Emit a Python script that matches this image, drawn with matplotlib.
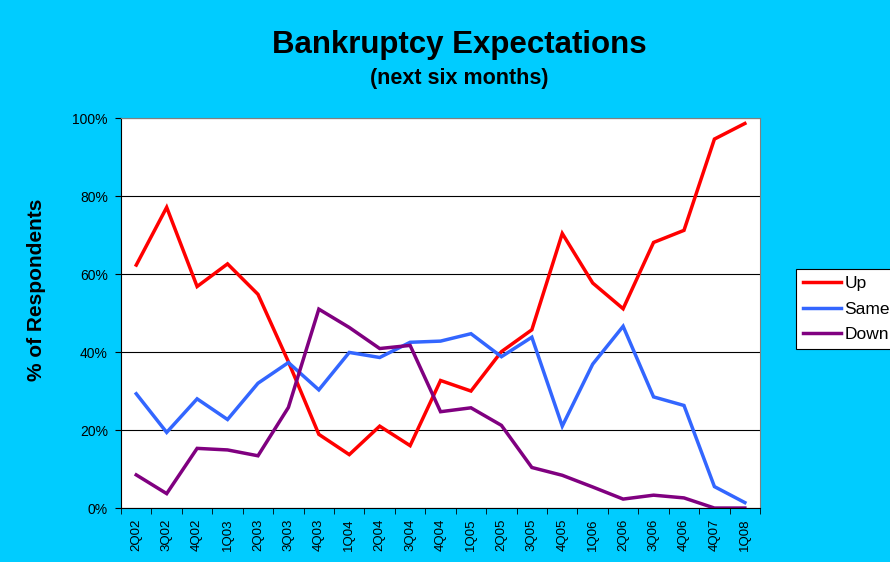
"""
Bankruptcy expectations line chart
"""

# Imports
import numpy as np
import matplotlib
matplotlib.use("Agg")
import matplotlib.pyplot as plt

plt.rcParams["font.family"] = ["Liberation Sans", "DejaVu Sans"]

# Data
quarters = ["2Q02", "3Q02", "4Q02", "1Q03", "2Q03", "3Q03", "4Q03", "1Q04", "2Q04", "3Q04", "4Q04",
            "1Q05", "2Q05", "3Q05", "4Q05", "1Q06", "2Q06", "3Q06", "4Q06", "4Q07", "1Q08"]
up = [62.3, 77.1, 56.8, 62.6, 54.8, 37.5, 18.9, 13.7, 21.0, 16.0, 32.7,
      30.0, 40.1, 45.7, 70.4, 57.7, 51.1, 68.1, 71.2, 94.6, 98.6]
same = [29.3, 19.4, 28.0, 22.7, 32.0, 37.3, 30.3, 39.9, 38.6, 42.5, 42.8,
        44.7, 38.8, 43.8, 21.0, 36.9, 46.6, 28.5, 26.3, 5.5, 1.4]
down = [8.5, 3.7, 15.3, 14.9, 13.4, 25.8, 51.0, 46.3, 40.9, 41.7, 24.7,
        25.7, 21.2, 10.4, 8.4, 5.4, 2.3, 3.3, 2.6, 0.0, 0.0]
series_names = ["Up", "Same", "Down"]

# Style
bg = "#00CCFF"
colors = ["#FF0000", "#3366FF", "#800080"]

fig = plt.figure(figsize=(8.9, 5.62), dpi=100, facecolor=bg)
ax = fig.add_axes([0.136, 0.096, 0.718, 0.694])
ax.set_facecolor("white")

x = np.arange(len(quarters))
for vals, name, c in zip([up, same, down], series_names, colors):
    ax.plot(x, vals, color=c, lw=2.5, label=name, solid_joinstyle="miter")

# Axes
ax.set_xlim(-0.5, len(quarters) - 0.5)
ax.set_ylim(0, 100)
ax.set_yticks(np.arange(0, 101, 20))
ax.set_yticklabels([f"{v}%" for v in range(0, 101, 20)], fontsize=10)
ax.set_xticks(x)
ax.set_xticklabels(quarters, rotation=90, fontsize=9.5)
ax.set_xticks(np.arange(-0.5, len(quarters), 1), minor=True)
ax.tick_params(axis="x", which="major", length=0, pad=7.5)
ax.tick_params(axis="x", which="minor", length=4, direction="out", color="black")
ax.tick_params(axis="y", length=4, direction="out", color="black", pad=5.5)
ax.grid(axis="y", color="black", lw=0.8)
ax.set_axisbelow(True)
for side in ["top", "right"]:
    ax.spines[side].set_color("#808080")
for side in ["left", "bottom"]:
    ax.spines[side].set_color("black")

ax.set_ylabel("% of Respondents", fontsize=15, fontweight="bold")
ax.yaxis.set_label_coords(-0.118, 0.56)

# Titles
fig.text(0.516, 0.92, "Bankruptcy Expectations", ha="center", va="center",
         fontsize=22.5, fontweight="bold")
fig.text(0.516, 0.861, "(next six months)", ha="center", va="center",
         fontsize=15.5, fontweight="bold")

# Legend
leg = fig.legend(loc="upper left", bbox_to_anchor=(0.894, 0.521), fontsize=12.5,
                 frameon=True, fancybox=False, edgecolor="black", framealpha=1,
                 handlelength=2.2, borderpad=0.4, labelspacing=0.6, handletextpad=0.2,
                 borderaxespad=0)
leg.get_frame().set_linewidth(0.8)

fig.savefig("out.png", dpi=100, facecolor=bg)
